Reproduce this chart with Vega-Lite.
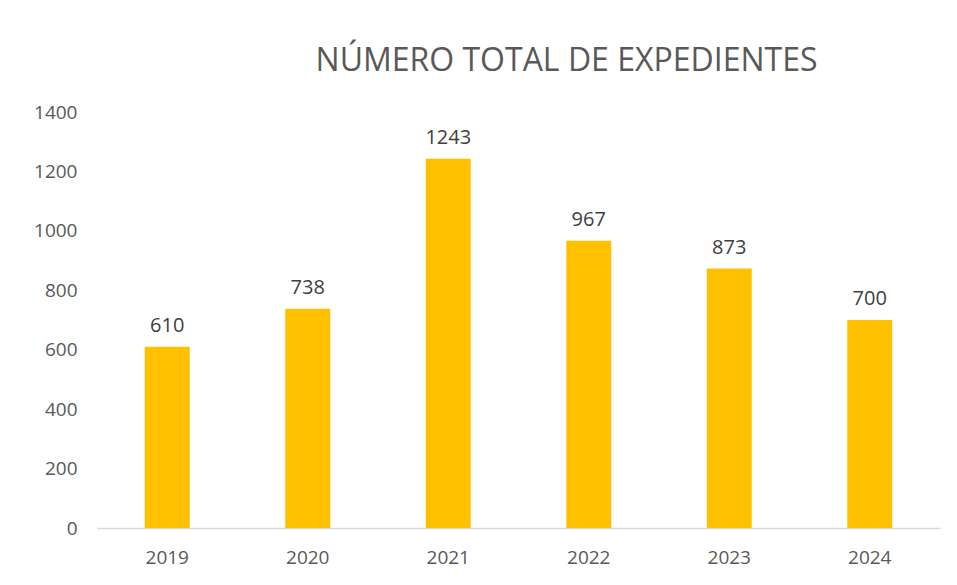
{
  "$schema": "https://vega.github.io/schema/vega-lite/v6.json",
  "autosize": {"type": "none"},
  "width": 843,
  "height": 416,
  "padding": {"left": 97, "top": 112, "right": 17, "bottom": 57},
  "background": "white",
  "title": {
    "text": "NÚMERO TOTAL DE EXPEDIENTES",
    "font": "Open Sans",
    "fontSize": 32,
    "fontWeight": "normal",
    "color": "#595959",
    "anchor": "middle",
    "dx": 48,
    "offset": 25
  },
  "data": {
    "values": [
      {"year": "2019", "value": 610},
      {"year": "2020", "value": 738},
      {"year": "2021", "value": 1243},
      {"year": "2022", "value": 967},
      {"year": "2023", "value": 873},
      {"year": "2024", "value": 700}
    ]
  },
  "encoding": {
    "x": {
      "field": "year",
      "type": "ordinal",
      "scale": {"paddingInner": 0.68, "paddingOuter": 0.34},
      "axis": {
        "title": null,
        "labelAngle": 0,
        "labelFont": "Open Sans",
        "labelFontSize": 19,
        "labelColor": "#595959",
        "labelPadding": 20,
        "ticks": false,
        "domainColor": "#d9d9d9",
        "domainWidth": 1.5
      }
    },
    "y": {
      "field": "value",
      "type": "quantitative",
      "scale": {"domain": [0, 1400]},
      "axis": {
        "title": null,
        "format": "d",
        "values": [0, 200, 400, 600, 800, 1000, 1200, 1400],
        "labelFont": "Open Sans",
        "labelFontSize": 19,
        "labelColor": "#595959",
        "labelPadding": 20,
        "ticks": false,
        "domain": false,
        "grid": false
      }
    }
  },
  "layer": [
    {"mark": {"type": "bar", "color": "#FFC000"}},
    {
      "mark": {
        "type": "text",
        "baseline": "bottom",
        "dy": -11,
        "font": "Open Sans",
        "fontSize": 20,
        "color": "#404040"
      },
      "encoding": {"text": {"field": "value", "type": "quantitative"}}
    }
  ],
  "config": {"view": {"stroke": null}}
}
